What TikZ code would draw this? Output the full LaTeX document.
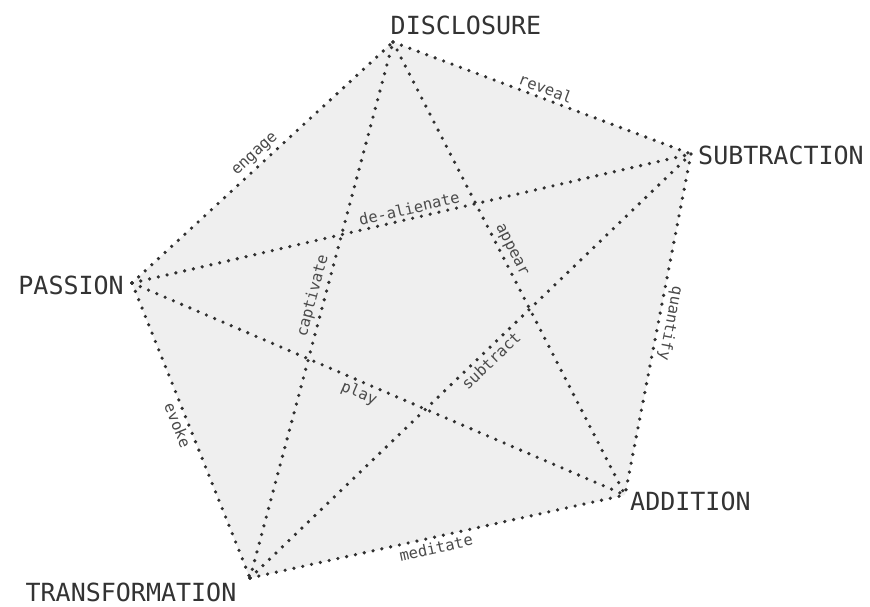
\documentclass[tikz,border=0pt]{standalone}
\usepackage{fontspec}
\newfontfamily\monofam{DejaVu Sans Mono}
\definecolor{dotc}{HTML}{303030}
\definecolor{fillc}{HTML}{EFEFEF}
\definecolor{vtext}{HTML}{333333}
\definecolor{etext}{HTML}{4A4A4A}
\begin{document}
\begin{tikzpicture}[x=1pt,y=-1pt]
\tikzset{
  dots/.style={draw=dotc, line width=3.6pt, line cap=round, dash pattern=on 0pt off 9pt},
  vlabel/.style={font=\monofam\fontsize{25}{30}\selectfont, text=vtext, inner sep=0pt},
  elabel/.style={font=\monofam\fontsize{15.5}{18}\selectfont, text=etext, inner sep=2.5pt, sloped},
}
\useasboundingbox (0,0) rectangle (870,606);
\fill[white] (0,0) rectangle (870,606);

\coordinate (D) at (393,42);
\coordinate (S) at (691,154);
\coordinate (P) at (132,283);
\coordinate (A) at (625,495);
\coordinate (T) at (250,578);

\fill[fillc] (D) -- (S) -- (A) -- (T) -- (P) -- cycle;

% outline
\draw[dots] (P) -- (D) node[elabel, pos=0.5, above] {engage};
\draw[dots] (D) -- (S) node[elabel, pos=0.5, above] {reveal};
\draw[dots] (S) -- (A) node[elabel, pos=0.49, above, allow upside down] {quantify};
\draw[dots] (T) -- (A) node[elabel, pos=0.49, below] {meditate};
\draw[dots] (P) -- (T) node[elabel, pos=0.47, below] {evoke};
% diagonals
\draw[dots] (P) -- (S) node[elabel, pos=0.5, above] {de-alienate};
\draw[dots] (T) -- (D) node[elabel, pos=0.52, above] {captivate};
\draw[dots] (D) -- (A) node[elabel, pos=0.47, above] {appear};
\draw[dots] (P) -- (A) node[elabel, pos=0.47, below] {play};
\draw[dots] (T) -- (S) node[elabel, pos=0.53, below] {subtract};

% vertex labels
\node[vlabel, anchor=center] (dl) at (466,25) {DISCLOSURE};
\node[vlabel, anchor=west] (sl) at (698,155) {SUBTRACTION};
\node[vlabel, anchor=east] (pl) at (124,285) {PASSION};
\node[vlabel, anchor=west] (al) at (630,501) {ADDITION};
\node[vlabel, anchor=center] (tl) at (131,592) {TRANSFORMATION};
\end{tikzpicture}
\end{document}
